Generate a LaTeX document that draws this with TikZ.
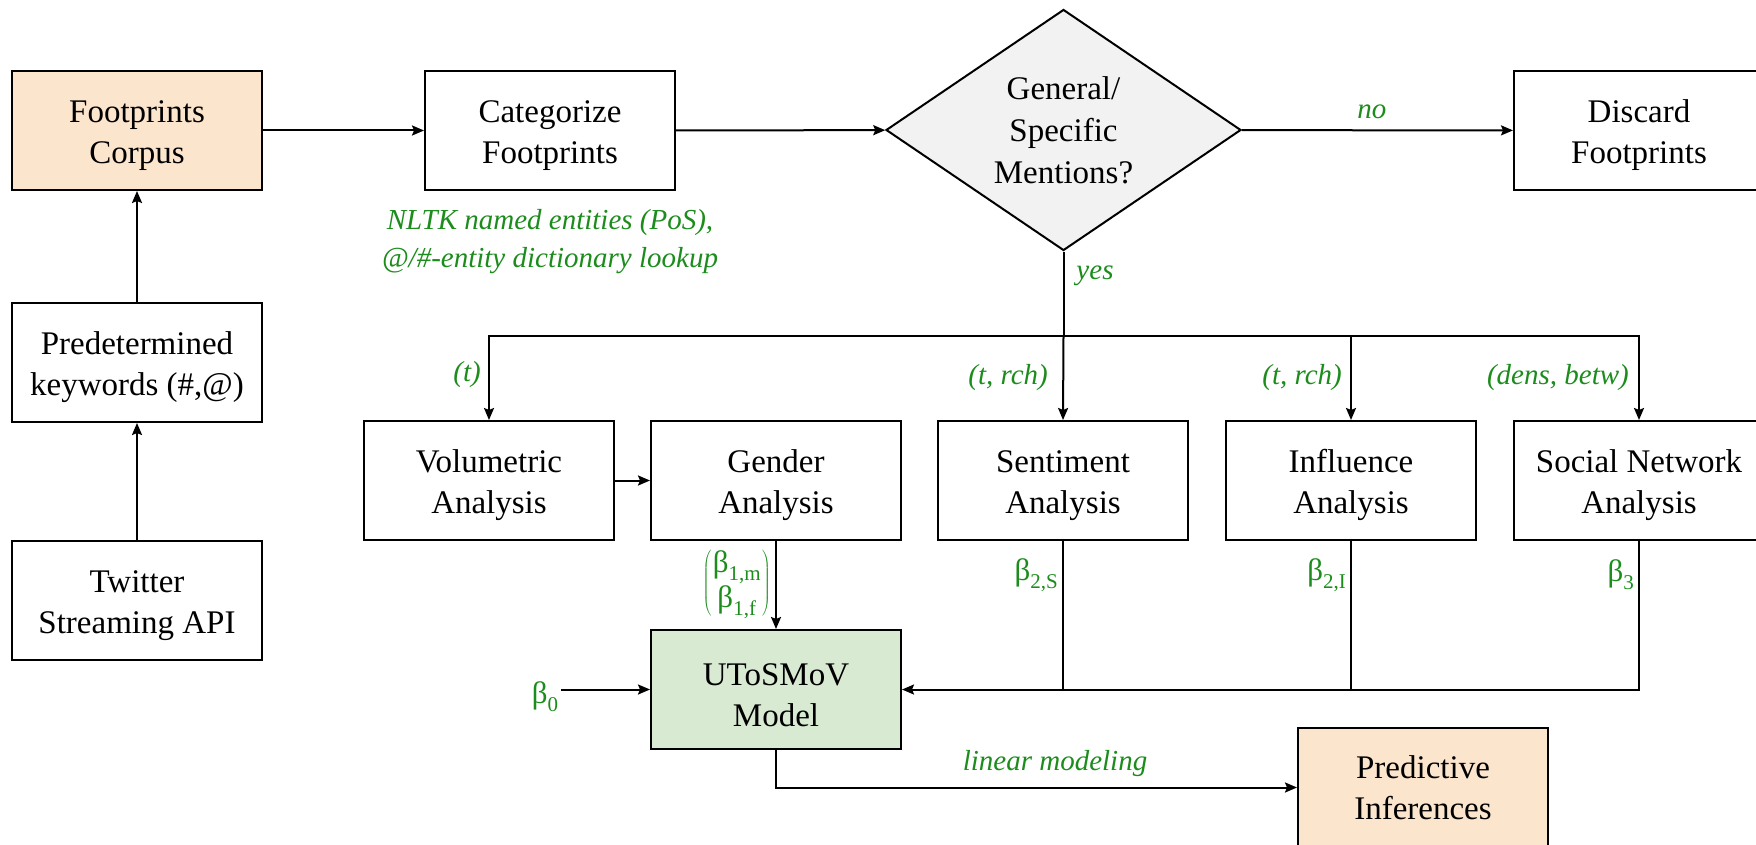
\documentclass[tikz,border=0pt]{standalone}
\usepackage{fontspec}
\setmainfont{Liberation Serif}
\usetikzlibrary{shapes.geometric,arrows.meta}
\definecolor{corpusfill}{RGB}{252,229,205}
\definecolor{modelfill}{RGB}{217,234,211}
\definecolor{decfill}{RGB}{242,242,242}
\definecolor{notegreen}{RGB}{28,140,28}
% coefficient with a lowered subscript
\newcommand{\coef}[1]{β\raisebox{-0.55ex}{\fontsize{21}{21}\selectfont #1}}
% taller first line, so that the text sits a little lower in its box
\newcommand{\lt}{\rule{0pt}{33pt}}

\begin{document}
\begin{tikzpicture}[x=1pt,y=-1pt,
  proc/.style={draw, line width=2pt, minimum width=250pt, minimum height=119pt,
    align=center, inner sep=0pt, font=\fontsize{33}{41}\selectfont},
  decision/.style={draw, line width=2pt, shape=diamond, fill=decfill, aspect=1.47,
    minimum width=355pt, minimum height=241pt, inner sep=0pt, align=center,
    font=\fontsize{33}{42}\selectfont},
  note/.style={text=notegreen, inner sep=0pt, align=center,
    font=\fontsize{29}{38}\selectfont\itshape},
  coeff/.style={text=notegreen, inner sep=0pt, font=\fontsize{31}{36}\selectfont},
  conn/.style={line width=2pt},
  arr/.style={line width=2pt, -{Stealth[length=12pt,width=10pt,inset=2pt]}}]

\clip (0,0) rectangle (1756,845);

% data acquisition column
\node[proc, fill=corpusfill] (corpus) at (137,130.5) {\lt Footprints\\Corpus};
\node[proc] (keys) at (137,362.5) {\lt Predetermined\\keywords (\#,@)};
\node[proc] (api) at (137,600) {\lt Twitter\\Streaming API};

% filtering
\node[proc] (cat) at (550,130.5) {\lt Categorize\\Footprints};
\node[decision] (dec) at (1063.5,130) {General/\\Specific\\Mentions?};
\node[proc] (disc) at (1639,130.5) {\lt Discard\\Footprints};

% analyses
\node[proc] (vol) at (489,480.5) {\lt Volumetric\\Analysis};
\node[proc] (gen) at (776,480.5) {\lt Gender\\Analysis};
\node[proc] (sent) at (1063,480.5) {\lt Sentiment\\Analysis};
\node[proc] (infl) at (1351,480.5) {\lt Influence\\Analysis};
\node[proc] (soc) at (1639,480.5) {\lt Social Network\\Analysis};

% model and output
\node[proc, fill=modelfill] (model) at (776,689.5) {\lt UToSMoV\\Model};
\node[proc, fill=corpusfill] (pred) at (1423,787.5) {Predictive\\Inferences};

% connectors of the upper part
\draw[arr] (api) -- (keys);
\draw[arr] (keys) -- (corpus);
\draw[arr] (corpus) -- (cat);
\draw[arr] (cat) -- (dec);
\draw[arr] (dec) -- (disc) node[note, pos=0.48, above=10pt] {no};

% branching to the analyses
\coordinate (br) at (1063.5,336);
\draw[conn] (dec.south) -- (br);
\draw[arr] (br) -| (vol.north);
\draw[arr] (br) -| (soc.north);
\draw[arr] (br) -- (sent.north);
\draw[arr] (infl.north |- br) -- (infl.north);
\draw[arr] (vol) -- (gen);

% inputs of the model
\draw[arr] (gen) -- (model);
\draw[arr] (soc.south) |- (model.east);
\draw[conn] (sent.south) -- (sent.south |- model.east);
\draw[conn] (infl.south) -- (infl.south |- model.east);
\node[coeff] (b0) at (545,697) {\coef{0}};
\draw[arr] (b0.east |- model.west) ++(3,0) coordinate (b0s) -- (model.west);
\draw[arr] (model.south) |- (pred.west);

% annotations
\node[note] (nltk) at (550,242) {NLTK named entities (PoS),\\@/\#-entity dictionary lookup};
\node[note] (yes) at (1095,276) {yes};
\node[note, anchor=east] (lt) at (481,375) {(t)};
\node[note, anchor=east] (ls) at (1048,378) {(t, rch)};
\node[note, anchor=east] (li) at (1342,378) {(t, rch)};
\node[note, anchor=east] (ln) at (1629,378) {(dens, betw)};
\node[note] (lin) at (1055,764) {linear modeling};

\node[coeff, anchor=east] (b2s) at (1058,575) {\coef{2,S}};
\node[coeff, anchor=east] (b2i) at (1346,575) {\coef{2,I}};
\node[coeff, anchor=east] (b3) at (1634,575) {\coef{3}};
\node[coeff, anchor=east] (b1) at (771,583)
  {$\left(\mkern1mu\begin{tabular}{@{}c@{}}\coef{1,m}\\[-2pt]\coef{1,f}\end{tabular}\mkern1mu\right)$};
\end{tikzpicture}
\end{document}
